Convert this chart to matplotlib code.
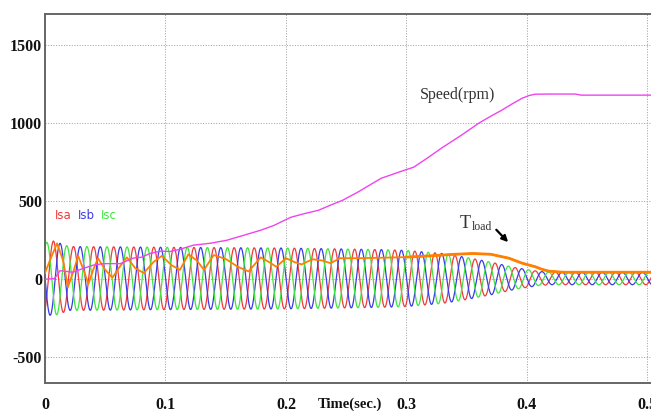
import numpy as np
import matplotlib
matplotlib.use("Agg")
import matplotlib.pyplot as plt

# ---- data ----
speed_t = [0, 0.008, 0.0125, 0.018, 0.023, 0.032, 0.040, 0.048, 0.0625, 0.073, 0.080,
           0.0875, 0.096, 0.104, 0.112, 0.123, 0.1375, 0.151, 0.165, 0.179, 0.190,
           0.204, 0.215, 0.227, 0.237, 0.247, 0.260, 0.279, 0.295, 0.306, 0.318,
           0.329, 0.345, 0.360, 0.370, 0.379, 0.388, 0.396, 0.402, 0.407, 0.420,
           0.440, 0.445, 0.505]
speed_v = [0, 5, 55, 50, 45, 70, 90, 100, 100, 135, 141,
           166, 180, 178, 192, 218, 231, 250, 282, 314, 345,
           397, 420, 442, 475, 506, 560, 647, 690, 718, 780,
           840, 920, 1000, 1045, 1083, 1125, 1160, 1178, 1186, 1187,
           1187, 1180, 1180]

torque_t = [0.000, 0.004, 0.010, 0.015, 0.019, 0.024, 0.0275, 0.032, 0.036, 0.040,
            0.044, 0.050, 0.056, 0.062, 0.068, 0.075, 0.082, 0.090, 0.097, 0.105,
            0.112, 0.119, 0.126, 0.132, 0.140, 0.150, 0.160, 0.169, 0.179, 0.186,
            0.192, 0.200, 0.207, 0.213, 0.222, 0.230, 0.237, 0.245, 0.260, 0.280,
            0.300, 0.320, 0.340, 0.355, 0.370, 0.385, 0.396, 0.407, 0.412, 0.418,
            0.430, 0.505]
torque_v = [40, 120, 230, 120, -50, 60, 150, 60, -30, 60,
            135, 60, 10, 80, 140, 70, 40, 110, 150, 90,
            60, 160, 120, 60, 155, 130, 80, 50, 140, 110,
            80, 135, 110, 95, 128, 120, 103, 135, 135, 138,
            142, 150, 160, 165, 160, 135, 103, 80, 65, 52,
            45, 45]

env_t = [0.0, 0.007, 0.02, 0.10, 0.20, 0.28, 0.30, 0.33, 0.35, 0.37, 0.39, 0.41, 0.42, 0.505]
env_a = [230, 240, 205, 200, 195, 185, 180, 160, 135, 105, 70, 45, 40, 40]
freq_hz = 60.0

x_ticks = [0, 0.1, 0.2, 0.3, 0.4, 0.5]
x_labels = ["0", "0.1", "0.2", "0.3", "0.4", "0.5"]
y_ticks = [-500, 0, 500, 1000, 1500]
y_labels = ["-500", "0", "500", "1000", "1500"]

# ---- figure ----
fig = plt.figure(figsize=(6.51, 4.12), dpi=100)
ax = fig.add_axes([45 / 651, 1 - 383 / 412, 1 - 45 / 651, (383 - 14) / 412])
ax.set_xlim(0, 0.503)
ax.set_ylim(-665, 1700)

t = np.linspace(0, 0.505, 6000)
amp = np.interp(t, env_t, env_a)
phi = -1.07
cols = ["#f03a3a", "#3a3ae6", "#3ee63e"]
for k, c in enumerate(cols):
    ax.plot(t, amp * np.sin(2 * np.pi * freq_hz * t + phi - k * 2 * np.pi / 3) + 5,
            color=c, lw=0.9, zorder=2)

ax.plot(torque_t, torque_v, color="#ff8000", lw=1.3, zorder=3)
late = [i for i, tt in enumerate(torque_t) if tt >= 0.30]
ax.plot([torque_t[i] for i in late], [torque_v[i] for i in late],
        color="#ff8000", lw=2.0, zorder=3)
ax.plot(speed_t, speed_v, color="#ee44ee", lw=1.0, zorder=4)

# grid & spines
ax.set_xticks(x_ticks)
ax.set_yticks(y_ticks)
ax.grid(True, color="#aaaaaa", linestyle=(0, (1.2, 1.5)), linewidth=0.7)
ax.set_axisbelow(True)
for s in ["left", "top", "bottom"]:
    ax.spines[s].set_color("#666666")
    ax.spines[s].set_linewidth(1.4)
ax.spines["right"].set_visible(False)
ax.tick_params(length=0)
ax.tick_params(axis="x", pad=10)
ax.tick_params(axis="y", pad=2)
ax.set_xticklabels(x_labels, fontfamily="Liberation Serif", fontweight="bold",
                   fontsize=11.5, color="#111111")
ax.set_yticklabels(y_labels, fontfamily="Liberation Serif", fontweight="bold",
                   fontsize=11.5, color="#111111")

fig.text(350 / 651, 1 - 404 / 412, "Time(sec.)", ha="center", va="center",
         fontfamily="Liberation Serif", fontweight="bold", fontsize=10.5, color="#111111")

# annotations
ax.text(0.311, 1180, "Speed(rpm)", ha="left", va="center",
        fontfamily="Liberation Serif", fontsize=11.5, color="#333333")
ax.text(0.344, 355, "T", ha="left", va="center",
        fontfamily="Liberation Serif", fontsize=13, color="#333333")
ax.text(0.3545, 335, "load", ha="left", va="center",
        fontfamily="Liberation Serif", fontsize=8.5, color="#333333")
ax.annotate("", xy=(0.386, 225), xytext=(0.373, 330),
            arrowprops=dict(arrowstyle="-|>", color="black", lw=1.6,
                            mutation_scale=9))

for lab, xx, c in [("Isa", 0.008, cols[0]), ("Isb", 0.027, cols[1]), ("Isc", 0.046, cols[2])]:
    ax.text(xx, 410, lab, color=c, fontsize=8.5, fontfamily="Liberation Sans Narrow",
            ha="left", va="center")

fig.savefig("out.png", dpi=100)
